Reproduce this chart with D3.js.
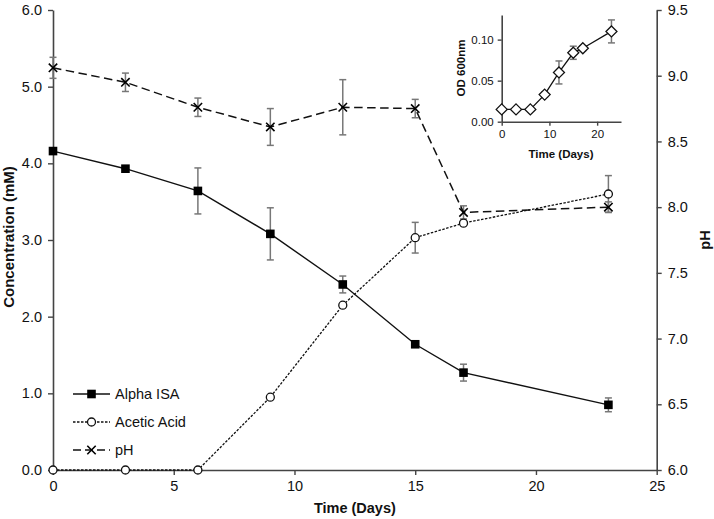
<!DOCTYPE html>
<html><head><meta charset="utf-8">
<script src="https://cdn.jsdelivr.net/npm/d3@7"></script>
<style>
html,body{margin:0;padding:0;background:#fff;}
svg{display:block;font-family:Arial,"Liberation Sans",sans-serif;}
</style></head>
<body>
<svg id="c" width="714" height="519"></svg>
<script>
// ---- data ----
const days = [0, 3, 6, 9, 12, 15, 17, 23];
const alphaISA = [4.16, 3.93, 3.64, 3.08, 2.42, 1.64, 1.27, 0.85];
const alphaErr = [0, 0, 0.30, 0.34, 0.11, 0.03, 0.11, 0.09];
const aceticAcid = [0, 0, 0, 0.95, 2.15, 3.03, 3.22, 3.60];
const aceticErr = [0, 0, 0, 0, 0, 0.20, 0.02, 0.24];
const pH = [9.06, 8.95, 8.76, 8.61, 8.76, 8.75, 7.96, 8.00];
const pHErr = [0.08, 0.07, 0.07, 0.14, 0.21, 0.07, 0.05, 0.04];
const od600 = [0.015, 0.015, 0.015, 0.033, 0.060, 0.084, 0.0895, 0.110];
const odErr = [0, 0, 0, 0.003, 0.014, 0.008, 0.003, 0.014];
const xTicks = [0, 5, 10, 15, 20, 25];
const yLeftTicks = [0, 1, 2, 3, 4, 5, 6];
const yRightTicks = [6.0, 6.5, 7.0, 7.5, 8.0, 8.5, 9.0, 9.5];
const insetXTicks = [0, 10, 20];
const insetYTicks = [0, 0.05, 0.10];
const legendLabels = ["Alpha ISA", "Acetic Acid", "pH"];

const svg = d3.select("#c");
const axisCol = "#444";
const errCol = "#777";

const x = d3.scaleLinear([0, 25], [53, 656.7]);
const yL = d3.scaleLinear([0, 6], [470, 10]);
const yR = d3.scaleLinear([6, 9.5], [470, 10]);

function styleAxis(g, fs) {
  g.select(".domain").attr("stroke", axisCol).attr("stroke-width", 1.6);
  g.selectAll(".tick line").attr("stroke", axisCol).attr("stroke-width", 1.4);
  g.selectAll(".tick text").attr("fill", "#111").style("font-size", fs + "px")
    .style("font-family", "Arial, 'Liberation Sans', sans-serif");
}

// axes
svg.append("g").attr("transform", "translate(0,470)")
  .call(d3.axisBottom(x).tickValues(xTicks).tickFormat(d3.format("d")).tickSize(5).tickSizeOuter(0).tickPadding(6))
  .call(g => styleAxis(g, 14.5));
svg.append("g").attr("transform", "translate(53,0)")
  .call(d3.axisLeft(yL).tickValues(yLeftTicks).tickFormat(d3.format(".1f")).tickSize(5).tickSizeOuter(0).tickPadding(6))
  .call(g => styleAxis(g, 14.5));
svg.append("g").attr("transform", "translate(656.7,0)")
  .call(d3.axisRight(yR).tickValues(yRightTicks).tickFormat(d3.format(".1f")).tickSize(5).tickSizeOuter(0).tickPadding(6))
  .call(g => styleAxis(g, 14.5));

// axis titles
svg.append("text").attr("x", (x(0) + x(25)) / 2).attr("y", 513).attr("text-anchor", "middle")
  .style("font-size", "14.5px").style("font-weight", "bold").attr("fill", "#111").text("Time (Days)");
svg.append("text").attr("transform", "translate(14,237) rotate(-90)").attr("text-anchor", "middle")
  .style("font-size", "15px").style("font-weight", "bold").attr("fill", "#111").text("Concentration (mM)");
svg.append("text").attr("transform", "translate(710,240) rotate(-90)").attr("text-anchor", "middle")
  .style("font-size", "14.5px").style("font-weight", "bold").attr("fill", "#111").text("pH");

function errBars(g, xs, ys, es, xsc, ysc, cap) {
  xs.forEach((d, i) => {
    if (!es[i]) return;
    const cx = xsc(d), y1 = ysc(ys[i] - es[i]), y2 = ysc(ys[i] + es[i]);
    g.append("line").attr("x1", cx).attr("x2", cx).attr("y1", y1).attr("y2", y2)
      .attr("stroke", errCol).attr("stroke-width", 1.5);
    [y1, y2].forEach(yy => g.append("line").attr("x1", cx - cap).attr("x2", cx + cap)
      .attr("y1", yy).attr("y2", yy).attr("stroke", errCol).attr("stroke-width", 1.5));
  });
}

const plot = svg.append("g");
const eb = plot.append("g");
errBars(eb, days, alphaISA, alphaErr, x, yL, 3.5);
errBars(eb, days, aceticAcid, aceticErr, x, yL, 3.5);
errBars(eb, days, pH, pHErr, x, yR, 3.5);

const lineL = d3.line().x(d => x(d[0])).y(d => yL(d[1]));
const lineR = d3.line().x(d => x(d[0])).y(d => yR(d[1]));

plot.append("path").datum(days.map((d, i) => [d, pH[i]])).attr("d", lineR)
  .attr("fill", "none").attr("stroke", "#111").attr("stroke-width", 1.5).attr("stroke-dasharray", "8.5,4.5");
plot.append("path").datum(days.map((d, i) => [d, aceticAcid[i]])).attr("d", lineL)
  .attr("fill", "none").attr("stroke", "#111").attr("stroke-width", 1.3).attr("stroke-dasharray", "2.5,1.5");
plot.append("path").datum(days.map((d, i) => [d, alphaISA[i]])).attr("d", lineL)
  .attr("fill", "none").attr("stroke", "#111").attr("stroke-width", 1.4);

function square(g, cx, cy) {
  g.append("rect").attr("x", cx - 4.3).attr("y", cy - 4.3).attr("width", 8.6).attr("height", 8.6).attr("fill", "#000");
}
function circle(g, cx, cy) {
  g.append("circle").attr("cx", cx).attr("cy", cy).attr("r", 4).attr("fill", "#fff")
    .attr("stroke", "#111").attr("stroke-width", 1.3);
}
function cross(g, cx, cy) {
  const s = 4.2;
  g.append("path").attr("d", `M${cx - s},${cy - s}L${cx + s},${cy + s}M${cx - s},${cy + s}L${cx + s},${cy - s}`)
    .attr("stroke", "#000").attr("stroke-width", 1.6).attr("fill", "none");
}
days.forEach((d, i) => cross(plot, x(d), yR(pH[i])));
days.forEach((d, i) => circle(plot, x(d), yL(aceticAcid[i])));
days.forEach((d, i) => square(plot, x(d), yL(alphaISA[i])));

// legend
const leg = svg.append("g");
const legY = [394, 422, 450];
const legDash = [null, "2.5,1.5", "8,4"];
const legMark = [square, circle, cross];
legendLabels.forEach((lab, i) => {
  const l = leg.append("line").attr("x1", 73).attr("x2", 110).attr("y1", legY[i]).attr("y2", legY[i])
    .attr("stroke", "#111").attr("stroke-width", 1.4);
  if (legDash[i]) l.attr("stroke-dasharray", legDash[i]);
  legMark[i](leg, 91.5, legY[i]);
  leg.append("text").attr("x", 115).attr("y", legY[i] + 5.2).style("font-size", "14.5px")
    .attr("fill", "#111").text(lab);
});

// inset
const ix = d3.scaleLinear([0, 25], [501.7, 621]);
const iy = d3.scaleLinear([0, 0.13], [121.7, 15]);
const inset = svg.append("g");
inset.append("g").attr("transform", "translate(0,121.7)")
  .call(d3.axisBottom(ix).tickValues(insetXTicks).tickFormat(d3.format("d")).tickSize(4).tickSizeOuter(0).tickPadding(4))
  .call(g => styleAxis(g, 11.5));
inset.append("g").attr("transform", "translate(501.7,0)")
  .call(d3.axisLeft(iy).tickValues(insetYTicks).tickFormat(d3.format(".2f")).tickSize(4).tickSizeOuter(0).tickPadding(4))
  .call(g => styleAxis(g, 11.5));
inset.append("text").attr("x", 561).attr("y", 158).attr("text-anchor", "middle")
  .style("font-size", "11.5px").style("font-weight", "bold").attr("fill", "#111").text("Time (Days)");
inset.append("text").attr("transform", "translate(465,68) rotate(-90)").attr("text-anchor", "middle")
  .style("font-size", "11.5px").style("font-weight", "bold").attr("fill", "#111").text("OD 600nm");
const ieb = inset.append("g");
errBars(ieb, days, od600, odErr, ix, iy, 3.5);
inset.append("path").datum(days.map((d, i) => [d, od600[i]]))
  .attr("d", d3.line().x(d => ix(d[0])).y(d => iy(d[1])))
  .attr("fill", "none").attr("stroke", "#111").attr("stroke-width", 1.3);
days.forEach((d, i) => {
  const cx = ix(d), cy = iy(od600[i]), s = 5.5;
  inset.append("path").attr("d", `M${cx},${cy - s}L${cx + s},${cy}L${cx},${cy + s}L${cx - s},${cy}Z`)
    .attr("fill", "#fff").attr("stroke", "#111").attr("stroke-width", 1.3);
});
</script>
</body></html>
